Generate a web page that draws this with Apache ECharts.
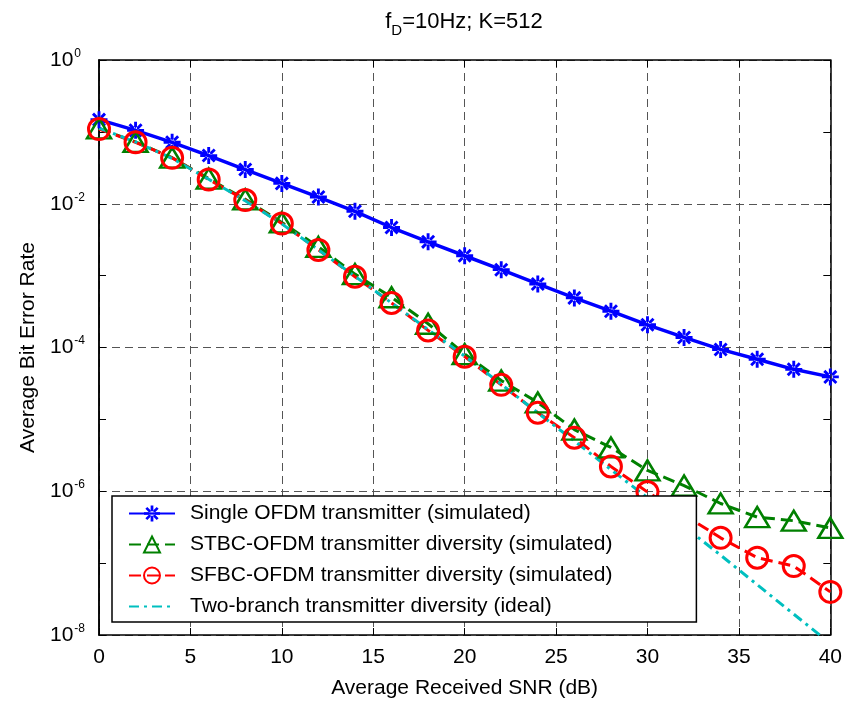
<!DOCTYPE html>
<html><head><meta charset="utf-8">
<script src="https://cdn.jsdelivr.net/npm/echarts@6/dist/echarts.min.js"></script>
<style>html,body{margin:0;padding:0;background:#fff}#c{width:845px;height:704px}</style>
</head><body><div id="c"></div>
<script>
var snr = [0,2,4,6,8,10,12,14,16,18,20,22,24,26,28,30,32,34,36,38,40];
var single = [0.148,0.105,0.0716,0.0468,0.0299,0.0192,0.0124,0.00785,0.00467,0.00295,0.00189,0.00121,7.65e-4,4.9e-4,3.2e-4,2.07e-4,1.38e-4,9.4e-5,6.85e-5,4.97e-5,3.9e-5];
var stbc = [0.112,0.0724,0.0437,0.0224,0.0115,0.0055,0.00251,0.00105,5.0e-4,2.14e-4,8.1e-5,3.47e-5,1.72e-5,7.2e-6,4.07e-6,1.95e-6,1.2e-6,6.76e-7,4.37e-7,3.89e-7,3.09e-7];
var sfbc = [0.1096,0.0716,0.0435,0.0218,0.01125,0.0053,0.00228,9.66e-4,4.17e-4,1.73e-4,7.46e-5,3.02e-5,1.24e-5,5.57e-6,2.21e-6,9.75e-7,4.68e-7,2.25e-7,1.19e-7,9.1e-8,3.98e-8];
var ideal = [0.113,0.0724,0.0427,0.0219,0.011,0.00525,0.00229,9.77e-4,4.17e-4,1.78e-4,7.59e-5,3.09e-5,1.23e-5,5.01e-6,2.0e-6,8.13e-7,3.24e-7,1.29e-7,5.01e-8,1.95e-8,7.6e-9];
var names = ['Single OFDM transmitter (simulated)','STBC-OFDM transmitter diversity (simulated)','SFBC-OFDM transmitter diversity (simulated)','Two-branch transmitter diversity (ideal)'];

function pairs(ys){ return snr.map(function(x,i){return [x, ys[i]];}); }
var FONT = 'Liberation Sans';
var FS = 21;
var star = 'path://M-1.7,-10L1.7,-10L1.7,10L-1.7,10Z M-10,-1.7L10,-1.7L10,1.7L-10,1.7Z M5.87,8.27L8.27,5.87L-5.87,-8.27L-8.27,-5.87Z M8.27,-5.87L5.87,-8.27L-8.27,5.87L-5.87,8.27Z';

var chart = echarts.init(document.getElementById('c'), null, {renderer:'canvas'});
var gridLine = {show:true, lineStyle:{color:'#555', type:[8,5], width:1}};
var axLine = {show:true, lineStyle:{color:'#000', width:1.5}};
var tick = {show:true, inside:true, length:7, lineStyle:{color:'#000', width:1}};
var yLabel = {
  fontFamily: FONT, color:'#000', margin: 49, align:'left',
  formatter: function(v){ var e = Math.round(Math.log10(v)); return '{b|10}{s|' + e + '}'; },
  rich: { b:{fontSize:FS, fontFamily:FONT, color:'#000'}, s:{fontSize:12, fontFamily:FONT, color:'#000', verticalAlign:'bottom', padding:[0,0,13,1]} }
};
function tickOnlyY(pos){
  return {type:'log', logBase:10, min:1e-8, max:1, interval:1, position:pos,
    axisLine:axLine, axisTick:tick, splitLine:{show:false}, axisLabel:{show:false}};
}
chart.setOption({
  animation:false,
  backgroundColor:'#fff',
  title:{
    text:'{a|f}{sub|D}{a|=10Hz; K=512}', left:459, top:1, textAlign:'center',
    textStyle:{ fontWeight:'normal', rich:{ a:{fontSize:22, fontFamily:FONT, color:'#000'}, sub:{fontSize:15, fontFamily:FONT, color:'#000', verticalAlign:'top', padding:[17,0,0,0]} } }
  },
  grid:{left:99, right:14, top:60, bottom:67},
  legend:{
    orient:'vertical', left:112, top:496,
    data:[{name:names[0]},{name:names[1]},{name:names[2]},{name:names[3], itemStyle:{opacity:0}}],
    backgroundColor:'#fff', borderColor:'#000', borderWidth:1.5,
    padding:[7,84,5,16], itemGap:10, itemWidth:46, itemHeight:20,
    textStyle:{fontSize:FS, fontFamily:FONT, color:'#000', lineHeight:20, padding:[0,0,0,10]}
  },
  xAxis:[
    {type:'value', min:0, max:40, interval:5, position:'bottom',
     axisLine:axLine, axisTick:tick, splitLine:gridLine,
     axisLabel:{fontSize:FS, fontFamily:FONT, color:'#000', margin:12},
     name:'Average Received SNR (dB)', nameLocation:'middle', nameGap:43,
     nameTextStyle:{fontSize:FS, fontFamily:FONT, color:'#000'}},
    {type:'value', min:0, max:40, interval:5, position:'top',
     axisLine:axLine, axisTick:tick, splitLine:{show:false}, axisLabel:{show:false}}
  ],
  yAxis:[
    {type:'log', logBase:10, min:1e-8, max:1, interval:2, position:'left',
     axisLine:axLine, axisTick:{show:false},
     splitLine:gridLine, axisLabel:yLabel,
     name:'Average Bit Error Rate', nameLocation:'middle', nameRotate:90, nameGap:58,
     nameTextStyle:{fontSize:FS, fontFamily:FONT, color:'#000'}},
    tickOnlyY('left'),
    tickOnlyY('right')
  ],
  series:[
    {name:names[0], type:'line', data:pairs(single), symbol:star, symbolSize:17,
     lineStyle:{color:'#0000ff', width:3.5}, itemStyle:{color:'#0000ff'}},
    {name:names[1], type:'line', data:pairs(stbc), symbol:'triangle', symbolSize:[24,20],
     lineStyle:{color:'#008000', width:3, type:[12,6]},
     itemStyle:{color:'rgba(255,255,255,0)', borderColor:'#008000', borderWidth:2.5}},
    {name:names[2], type:'line', data:pairs(sfbc), symbol:'circle', symbolSize:21,
     lineStyle:{color:'#ff0000', width:3, type:[12,6]},
     itemStyle:{color:'rgba(255,255,255,0)', borderColor:'#ff0000', borderWidth:3}},
    {name:names[3], type:'line', data:pairs(ideal), symbol:'none',
     lineStyle:{color:'#00bfbf', width:3, type:[10,5,3,5]}, itemStyle:{color:'#00bfbf'}}
  ]
});
</script></body></html>
